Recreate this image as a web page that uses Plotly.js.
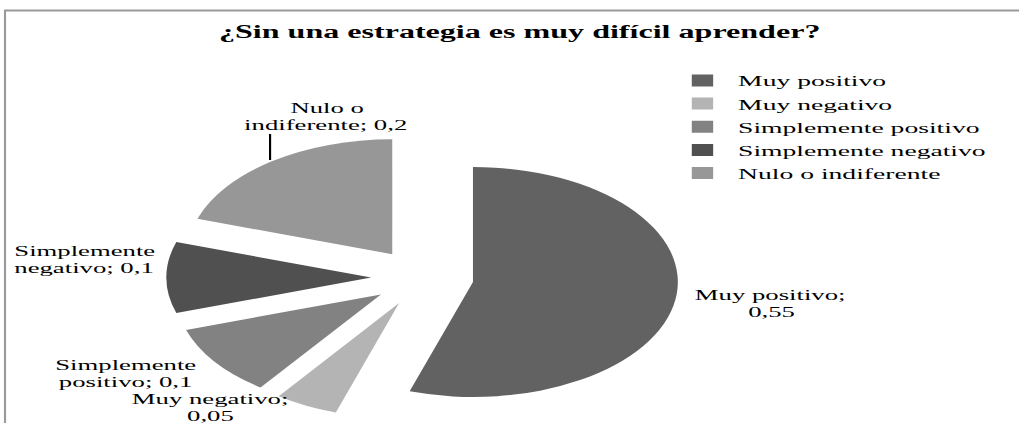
<!DOCTYPE html>
<html>
<head>
<meta charset="utf-8">
<script src="https://cdn.plot.ly/plotly-3.0.1.min.js"></script>
<style>
  html, body { margin: 0; padding: 0; overflow: hidden; background: #ffffff; }
  /* The reference is a horizontally stretched picture: draw at native width, then stretch */
  #chart { width: 572px; height: 423px; transform: scaleX(1.7815); transform-origin: 0 0; }
</style>
</head>
<body>
<div id="chart"></div>
<script>
// ---- data ----
var categories = ['Muy positivo', 'Muy negativo', 'Simplemente positivo', 'Simplemente negativo', 'Nulo o indiferente'];
var shares = [0.55, 0.05, 0.1, 0.1, 0.2];
var sliceColors = ['#626262', '#b4b4b4', '#828282', '#505050', '#979797'];
var chartTitle = '¿Sin una estrategia es muy difícil aprender?';

// ---- layout helpers (positions, not data) ----
var W = 572, H = 423;
var LINE_GAP = 17;               // px between the two lines of a data label
// where each data label is wrapped: word index after which the line break goes
var wrapAfterWord = [2, 2, 1, 1, 2];
// label block centres in the reference (unscaled px)
var labelPos = [[432.8, 303], [118.4, 407.5], [70.2, 373.5], [47.2, 259.5], [183.3, 117]];

function fmt(v) { return String(v).replace('.', ','); }

var labelFont = { family: 'Liberation Serif, Times New Roman, serif', size: 15, color: '#000000' };
var annotations = [];
categories.forEach(function (c, i) {
  var words = (c + '; ' + fmt(shares[i])).split(' ');
  var k = wrapAfterWord[i];
  var lines = [words.slice(0, k).join(' '), words.slice(k).join(' ')];
  lines.forEach(function (ln, j) {
    var yc = labelPos[i][1] + (j === 0 ? -LINE_GAP / 2 : LINE_GAP / 2);
    annotations.push({
      text: ln, xref: 'paper', yref: 'paper',
      x: labelPos[i][0] / W, y: 1 - yc / H,
      xanchor: 'center', yanchor: 'middle', align: 'center', showarrow: false,
      font: labelFont
    });
  });
});

var trace = {
  type: 'pie',
  labels: categories,
  values: shares,
  sort: false,
  direction: 'clockwise',
  rotation: 0,
  pull: 0.25,
  textinfo: 'none',
  hoverinfo: 'label+value',
  marker: { colors: sliceColors, line: { width: 0 } },
  domain: { x: [0.1632, 0.6658], y: [0.0041, 0.6838] }
};

var layout = {
  width: W, height: H,
  margin: { l: 0, r: 0, t: 0, b: 0 },
  paper_bgcolor: '#ffffff',
  separators: ',.',
  title: {
    text: chartTitle,
    x: 0.51, xanchor: 'center',
    y: 1 - 32 / H, yanchor: 'middle', yref: 'container',
    font: { family: 'Liberation Serif, Times New Roman, serif', size: 18, weight: 700, color: '#000000' }
  },
  showlegend: true,
  legend: {
    x: 0.6544, xanchor: 'left',
    y: 0.849, yanchor: 'top',
    bgcolor: 'rgba(0,0,0,0)',
    traceorder: 'normal',
    font: { family: 'Liberation Serif, Times New Roman, serif', size: 15.5, color: '#000000' }
  },
  annotations: annotations,
  shapes: [
    { type: 'line', xref: 'paper', yref: 'paper', x0: 4 / 1019, x1: 1, y0: 1 - 10.5 / H, y1: 1 - 10.5 / H,
      line: { color: '#9a9a9a', width: 2 } },
    { type: 'line', xref: 'paper', yref: 'paper', x0: 5 / 1019, x1: 5 / 1019, y0: 0, y1: 1 - 10 / H,
      line: { color: '#9a9a9a', width: 1.2 } },
    { type: 'line', xref: 'paper', yref: 'paper', x0: 151.6 / W, x1: 151.6 / W, y0: 1 - 134 / H, y1: 1 - 160 / H,
      line: { color: '#000000', width: 1.2 } }
  ]
};

Plotly.newPlot('chart', [trace], layout, { displayModeBar: false, staticPlot: true });
</script>
</body>
</html>
